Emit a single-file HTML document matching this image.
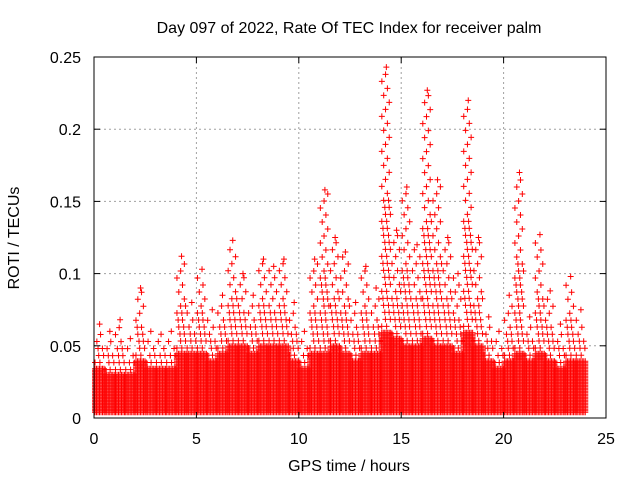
<!DOCTYPE html>
<html><head><meta charset="utf-8"><style>
body{margin:0;background:#fff}
svg{display:block;font-family:"Liberation Sans",sans-serif}
</style></head><body>
<svg id="chart" width="640" height="480" viewBox="0 0 640 480">
<rect width="640" height="480" fill="#fff"/>
<g id="grid"></g>
<g id="marks"></g>
<rect x="94" y="57" width="512" height="361" fill="none" stroke="#000" stroke-width="1"/>
<g id="ticks" font-size="16" fill="#000"></g>
<text x="349" y="33" text-anchor="middle" font-size="16">Day 097 of 2022, Rate Of TEC Index for receiver palm</text>
<text x="349" y="471" text-anchor="middle" font-size="16">GPS time / hours</text>
<text transform="translate(19,238) rotate(-90)" text-anchor="middle" font-size="16">ROTI / TECUs</text>
</svg>
<script>
const xTicks=[0,5,10,15,20,25];
const yTicks=[0,0.05,0.1,0.15,0.2,0.25];
const yTickLabels=["0","0.05","0.1","0.15","0.2","0.25"];
const binStart=[0,0.5,1,1.5,2,2.5,3,3.5,4,4.5,5,5.5,6,6.5,7,7.5,8,8.5,9,9.5,10,10.5,11,11.5,12,12.5,13,13.5,14,14.5,15,15.5,16,16.5,17,17.5,18,18.5,19,19.5,20,20.5,21,21.5,22,22.5,23,23.5];
const binMax=[0.065,0.06,0.068,0.055,0.09,0.06,0.058,0.06,0.112,0.08,0.103,0.075,0.085,0.123,0.1,0.085,0.11,0.105,0.11,0.08,0.06,0.11,0.158,0.125,0.115,0.08,0.105,0.09,0.243,0.13,0.16,0.12,0.227,0.165,0.125,0.1,0.22,0.125,0.07,0.06,0.085,0.17,0.07,0.127,0.088,0.065,0.098,0.075];
const bandTop=[0.035,0.03,0.03,0.03,0.04,0.035,0.035,0.035,0.045,0.045,0.045,0.04,0.045,0.05,0.05,0.045,0.05,0.05,0.05,0.04,0.035,0.045,0.045,0.05,0.045,0.04,0.045,0.045,0.06,0.055,0.05,0.05,0.055,0.05,0.05,0.045,0.06,0.05,0.04,0.035,0.04,0.045,0.04,0.045,0.04,0.035,0.04,0.04];
const X=v=>94+v*512/25, Y=v=>418-v*361/0.25;
const NS="http://www.w3.org/2000/svg";
const grid=document.getElementById('grid'),ticks=document.getElementById('ticks'),marks=document.getElementById('marks');
function mk(t,a,p){const e=document.createElementNS(NS,t);for(const k in a)e.setAttribute(k,a[k]);p.appendChild(e);return e;}
xTicks.forEach(t=>{const x=X(t);
 if(t>0&&t<25){const l=mk('line',{x1:x,y1:57,x2:x,y2:418,stroke:'#a0a0a0','stroke-dasharray':'2,3'},grid);
 }
 mk('line',{x1:x,y1:418,x2:x,y2:412,stroke:'#000'},ticks);mk('line',{x1:x,y1:57,x2:x,y2:63,stroke:'#000'},ticks);
 const tx=mk('text',{x:x,y:444,'text-anchor':'middle'},ticks);tx.textContent=t;
 });
yTicks.forEach((t,i)=>{const y=Y(t);
 if(i>0&&i<yTicks.length-1){const l=mk('line',{x1:94,y1:y,x2:606,y2:y,stroke:'#a0a0a0','stroke-dasharray':'2,3'},grid);
 }
 mk('line',{x1:94,y1:y,x2:100,y2:y,stroke:'#000'},ticks);mk('line',{x1:606,y1:y,x2:600,y2:y,stroke:'#000'},ticks);
 const tx=mk('text',{x:81,y:y+6,'text-anchor':'end'},ticks);tx.textContent=yTickLabels[i];
 });
function plus(x,y){return `M${x-3} ${y}h6M${x} ${y-3}v6`;}
binStart.forEach((b,i)=>{
 const x0=X(b)+1,x1=X(b+0.5),yb=Y(0.004),yt=Y(bandTop[i]),ym=Y(binMax[i]);
 let d='';
 for(let x=x0;x<=x1;x+=1.5)for(let y=yb;y>=yt;y-=1.5)d+=plus(x,y);
 let k=0;
 for(let y=yt-5;y>ym+4;y-=7){const f=(y-ym)/(yt-ym+1);const n=f>0.5?2:1;
  for(let j=0;j<n;j++){const x=x0+((k*3.7+j*4.9)%(x1-x0));d+=plus(x,y);}k++;}
 d+=plus((x0+x1)/2,ym);
 const p=mk('path',{d:d,stroke:'#ff0000','stroke-width':1,fill:'none'},marks);
 
 
});
</script>
</body></html>
